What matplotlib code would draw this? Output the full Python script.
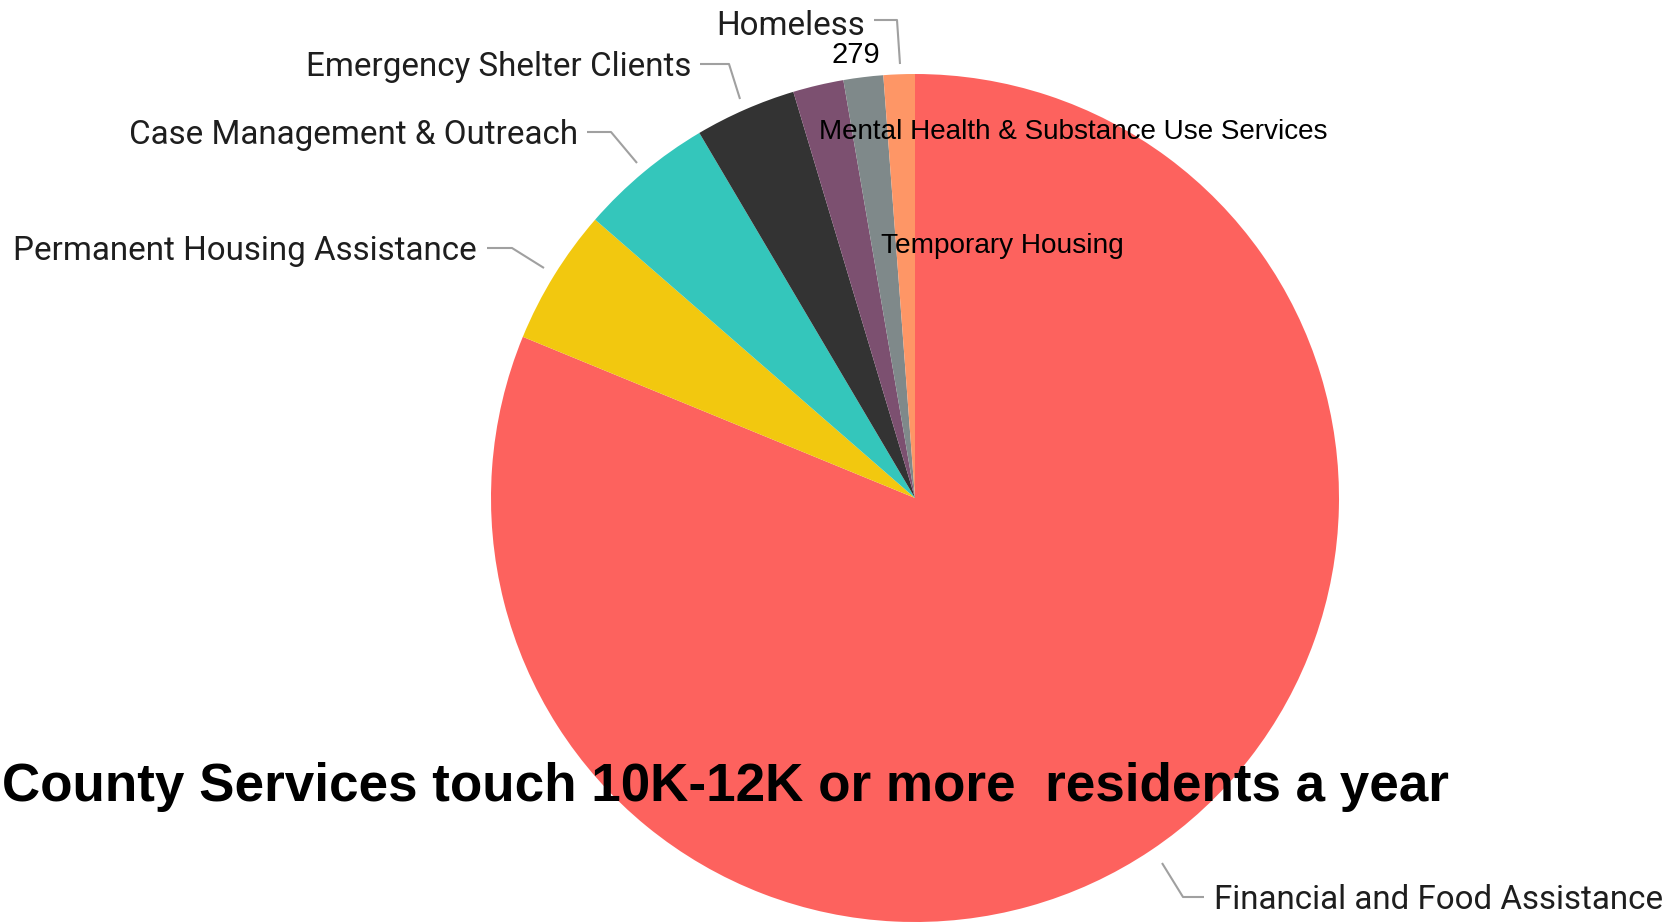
import matplotlib.pyplot as plt

# slice data, clockwise from 12 o'clock
services = ["Financial and Food Assistance", "Permanent Housing Assistance",
            "Case Management & Outreach", "Emergency Shelter Clients",
            "Mental Health & Substance Use Services", "Temporary Housing", "Homeless"]
residents = [19020, 1216, 1197, 904, 452, 354, 279]
colors = ["#FD625E", "#F2C80F", "#34C6BB", "#333333", "#7C5070", "#7F898A", "#FE9666"]

W, H = 1674, 922
fig = plt.figure(figsize=(W / 100, H / 100), dpi=100)
ax = fig.add_axes([0, 0, 1, 1])

# pie in pixel space (y measured up from bottom)
cx, cy, r = 915, H - 498, 424
ax.pie(residents, colors=colors, startangle=90, counterclock=False,
       center=(cx, cy), radius=r, wedgeprops=dict(linewidth=0))
ax.set_xlim(0, W)
ax.set_ylim(0, H)
ax.set_aspect("equal")
ax.axis("off")

lab_font = dict(family="Roboto", fontsize=23.9, color="#1E1E1E")
line_kw = dict(color="#A0A0A0", lw=1.5, solid_capstyle="butt")


def yy(v):
    return H - v


# outside labels with leader lines
ax.text(865, yy(26), services[6], ha="right", va="center", **lab_font)
ax.plot([874, 897, 900], [yy(20), yy(20), yy(64)], **line_kw)

ax.text(691, yy(67), services[3], ha="right", va="center", **lab_font)
ax.plot([700, 729, 740], [yy(64), yy(64), yy(99)], **line_kw)

ax.text(578, yy(135), services[2], ha="right", va="center", **lab_font)
ax.plot([587, 611, 637], [yy(132), yy(132), yy(163)], **line_kw)

ax.text(477, yy(251), services[1], ha="right", va="center", **lab_font)
ax.plot([487, 512, 544], [yy(248), yy(248), yy(268)], **line_kw)

ax.text(1214, yy(900), services[0], ha="left", va="center", **lab_font)
ax.plot([1162, 1183, 1204], [yy(863), yy(897), yy(897)], **line_kw)

# overlay text from the slide
ax.text(856, yy(55), str(residents[6]), ha="center", va="center",
        family="Liberation Sans", fontsize=21, color="black")
ax.text(819, yy(132), services[4], ha="left", va="center",
        family="Liberation Sans", fontsize=20.1, color="black")
ax.text(881, yy(246), services[5], ha="left", va="center",
        family="Liberation Sans", fontsize=20.2, color="black")
ax.text(2, yy(787), "County Services touch 10K-12K or more  residents a year",
        ha="left", va="center", family="Liberation Sans", fontweight="bold",
        fontsize=38.2, color="black")

fig.savefig("out.png", dpi=100)
